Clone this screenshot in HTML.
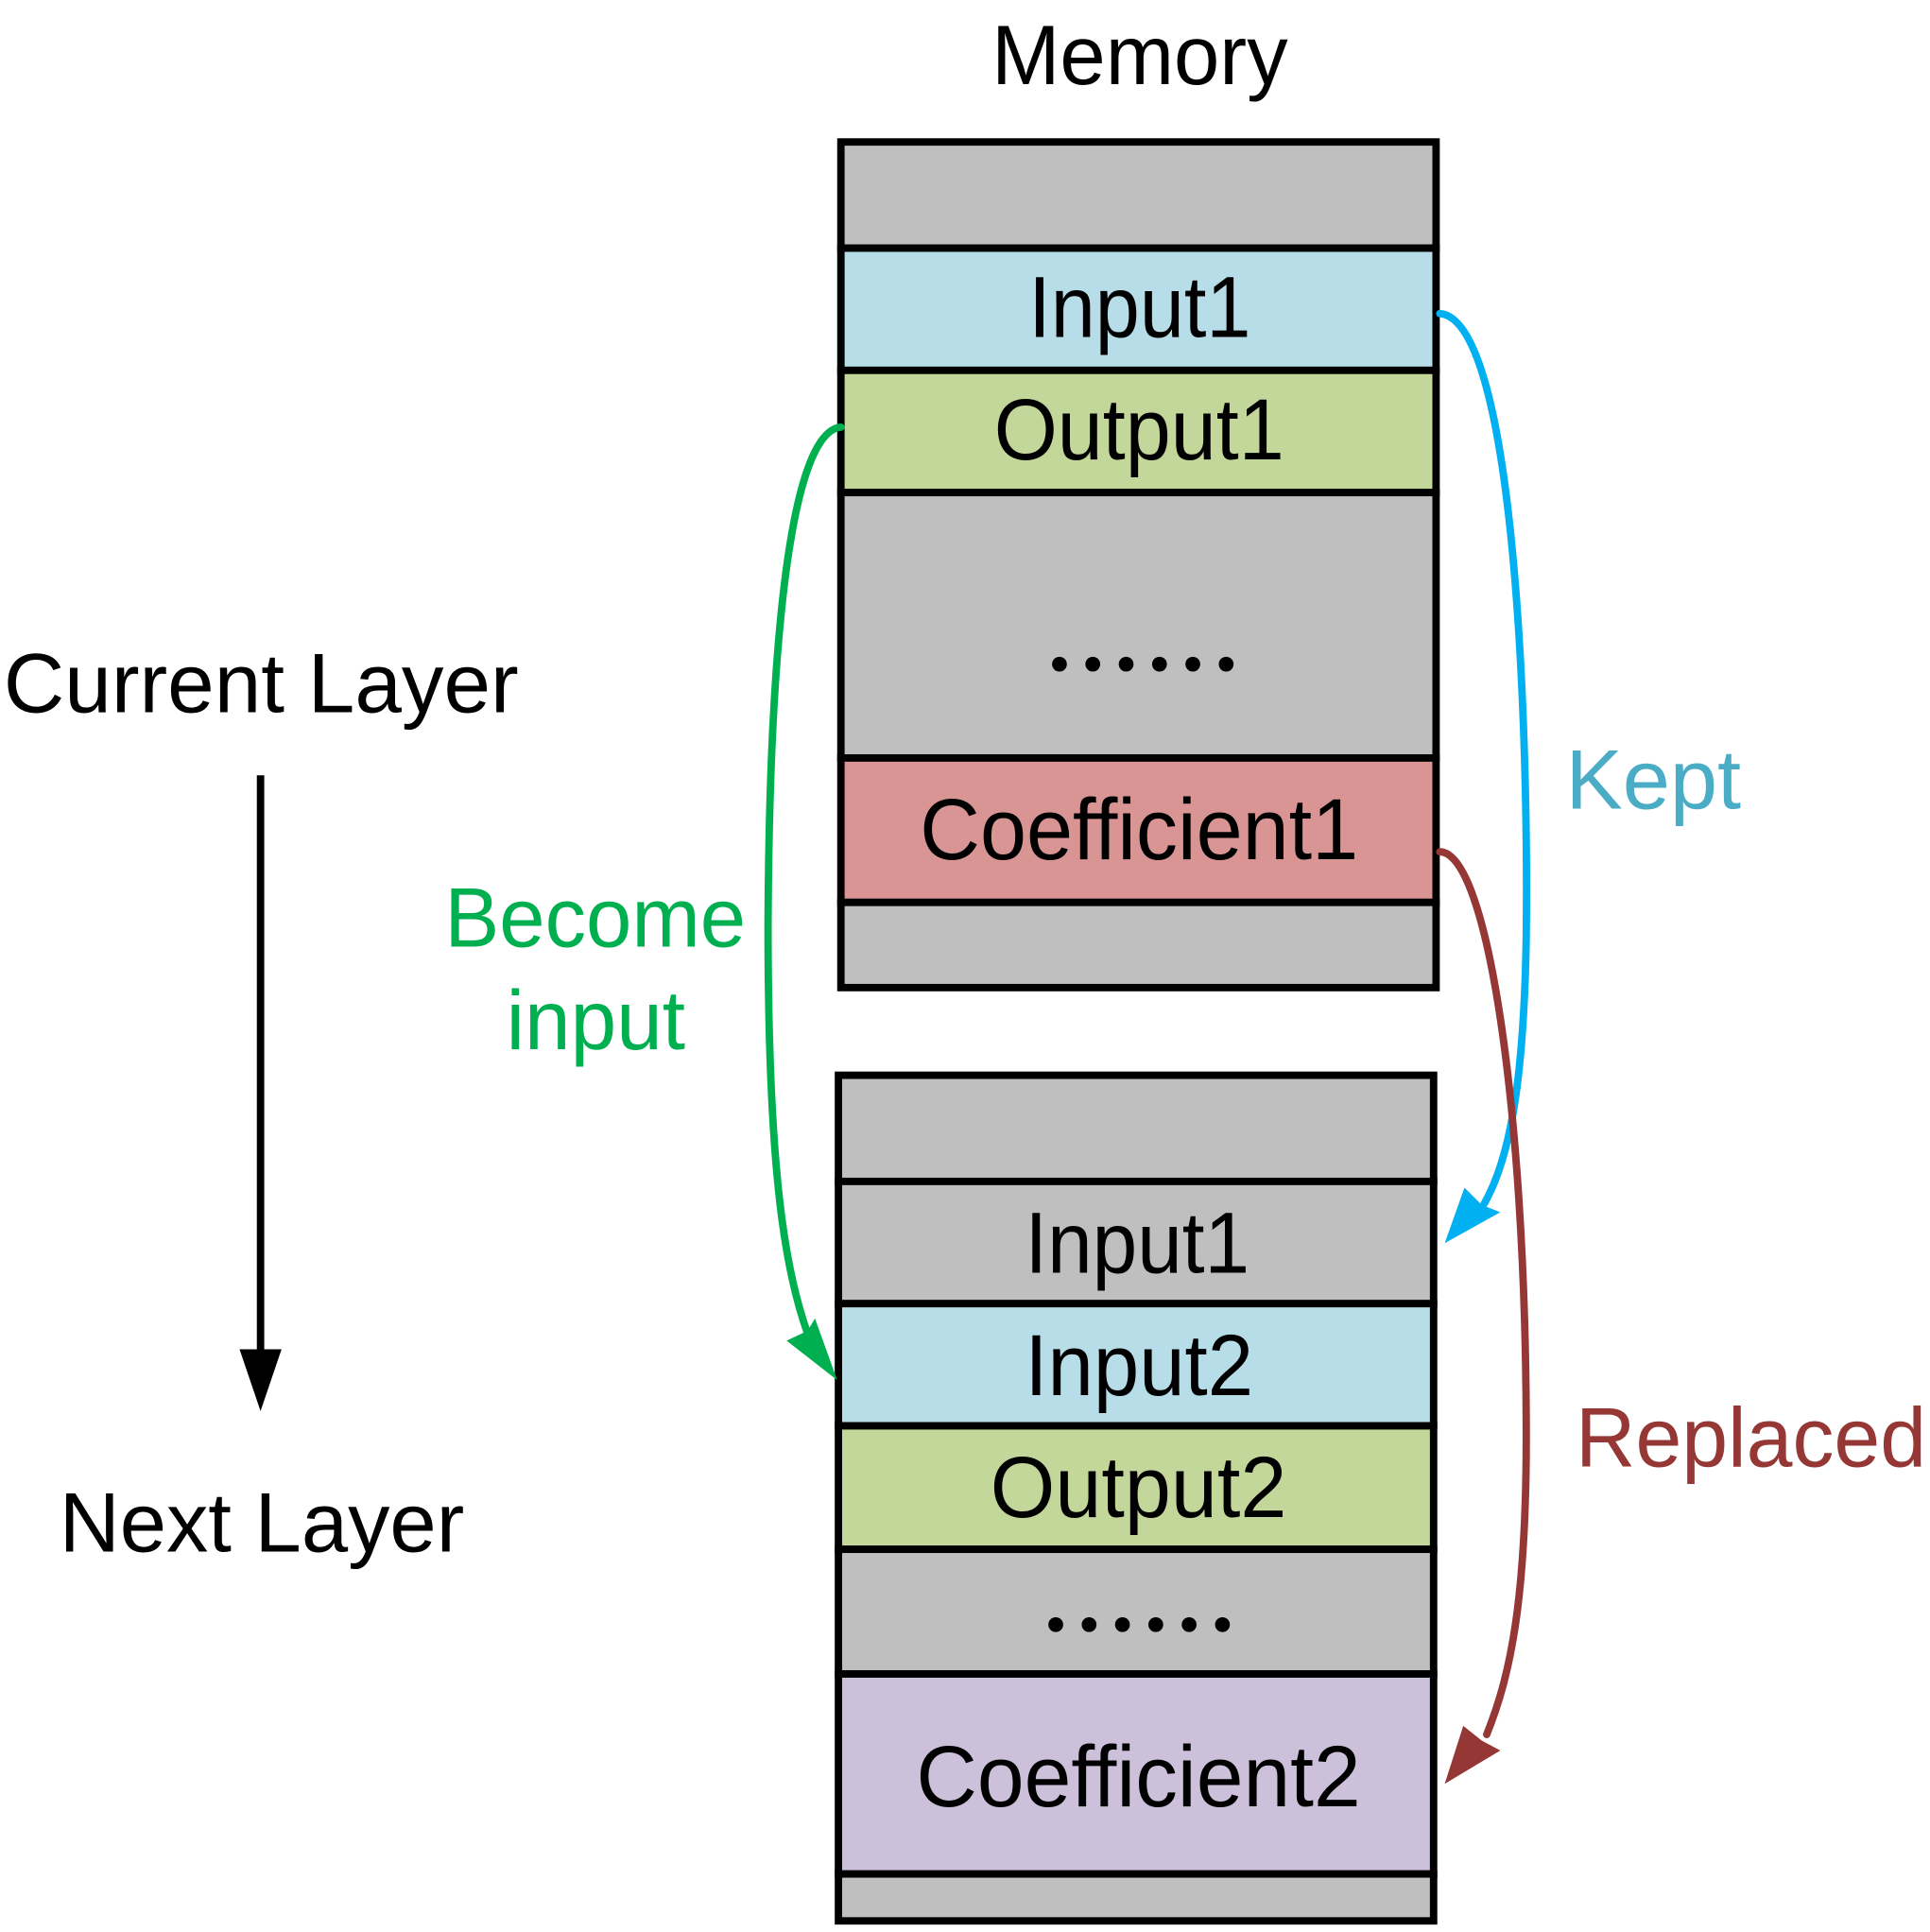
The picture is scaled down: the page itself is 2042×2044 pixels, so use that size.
<!DOCTYPE html>
<html><head><meta charset="utf-8"><style>
html,body{margin:0;padding:0;background:#fff;}
svg{display:block;}
text{font-family:"Liberation Sans",Arial,sans-serif;}
</style></head><body>
<svg width="2042" height="2044" viewBox="0 0 1563 1565" preserveAspectRatio="none" xmlns="http://www.w3.org/2000/svg">
<text x="803" y="68" font-size="68" textLength="240" lengthAdjust="spacingAndGlyphs">Memory</text>
<g stroke="#000" stroke-width="6">
<rect x="681" y="115" width="482" height="86" fill="#bfbfbf"/>
<rect x="681" y="201" width="482" height="99" fill="#b7dde8"/>
<rect x="681" y="300" width="482" height="99" fill="#c4d79b"/>
<rect x="681" y="399" width="482" height="215" fill="#bfbfbf"/>
<rect x="681" y="614" width="482" height="117" fill="#d99594"/>
<rect x="681" y="731" width="482" height="69" fill="#bfbfbf"/>
</g>
<text x="833" y="273" font-size="70" textLength="180" lengthAdjust="spacingAndGlyphs">Input1</text>
<text x="805" y="372" font-size="70" textLength="235" lengthAdjust="spacingAndGlyphs">Output1</text>
<text x="745" y="696" font-size="70" textLength="355" lengthAdjust="spacingAndGlyphs">Coefficient1</text>
<g stroke="#000" stroke-width="6">
<rect x="679" y="871" width="482" height="86" fill="#bfbfbf"/>
<rect x="679" y="957" width="482" height="99" fill="#bfbfbf"/>
<rect x="679" y="1056" width="482" height="99" fill="#b7dde8"/>
<rect x="679" y="1155" width="482" height="100" fill="#c4d79b"/>
<rect x="679" y="1255" width="482" height="101" fill="#bfbfbf"/>
<rect x="679" y="1356" width="482" height="162" fill="#ccc0da"/>
<rect x="679" y="1518" width="482" height="38" fill="#bfbfbf"/>
</g>
<g fill="#000">
<circle cx="858" cy="538" r="6"/><circle cx="885" cy="538" r="6"/><circle cx="912" cy="538" r="6"/>
<circle cx="939" cy="538" r="6"/><circle cx="966" cy="538" r="6"/><circle cx="993" cy="538" r="6"/>
<circle cx="855" cy="1316" r="6"/><circle cx="882" cy="1316" r="6"/><circle cx="909" cy="1316" r="6"/>
<circle cx="936" cy="1316" r="6"/><circle cx="963" cy="1316" r="6"/><circle cx="990" cy="1316" r="6"/>
</g>
<text x="830" y="1031" font-size="70" textLength="182" lengthAdjust="spacingAndGlyphs">Input1</text>
<text x="830" y="1130" font-size="70" textLength="185" lengthAdjust="spacingAndGlyphs">Input2</text>
<text x="802" y="1229" font-size="70" textLength="240" lengthAdjust="spacingAndGlyphs">Output2</text>
<text x="742" y="1463" font-size="70" textLength="360" lengthAdjust="spacingAndGlyphs">Coefficient2</text>
<text x="3" y="577" font-size="68" textLength="417" lengthAdjust="spacingAndGlyphs">Current Layer</text>
<text x="48" y="1257" font-size="68" textLength="328" lengthAdjust="spacingAndGlyphs">Next Layer</text>
<line x1="211" y1="628" x2="211" y2="1100" stroke="#000" stroke-width="6"/>
<polygon points="194,1093 228,1093 211,1143" fill="#000"/>
<text x="360" y="767" font-size="68" fill="#00b050" textLength="244" lengthAdjust="spacingAndGlyphs">Become</text>
<text x="410" y="850" font-size="68" fill="#00b050" textLength="145" lengthAdjust="spacingAndGlyphs">input</text>
<text x="1268" y="655" font-size="68" fill="#4bacc6" textLength="142" lengthAdjust="spacingAndGlyphs">Kept</text>
<text x="1276" y="1188" font-size="68" fill="#953735" textLength="284" lengthAdjust="spacingAndGlyphs">Replaced</text>
<g fill="none" stroke-width="6" stroke-linecap="round">
<path d="M1166,254 C1228,258 1238,600 1236,760 C1234,880 1222,940 1202,975" stroke="#00b0f0"/>
<path d="M681,346 C640,350 623,520 622,750 C622,950 636,1030 654,1080" stroke="#00b050"/>
<path d="M1166,690 C1205,690 1235,900 1236,1150 C1237,1300 1222,1360 1204,1405" stroke="#953735"/>
</g>
<polygon points="1170,1007 1186,962 1200,976 1215,982" fill="#00b0f0"/>
<polygon points="678,1118 637,1086 654,1078 660,1068" fill="#00b050"/>
<polygon points="1170,1445 1185,1398 1200,1410 1215,1418" fill="#953735"/>
</svg>
</body></html>
